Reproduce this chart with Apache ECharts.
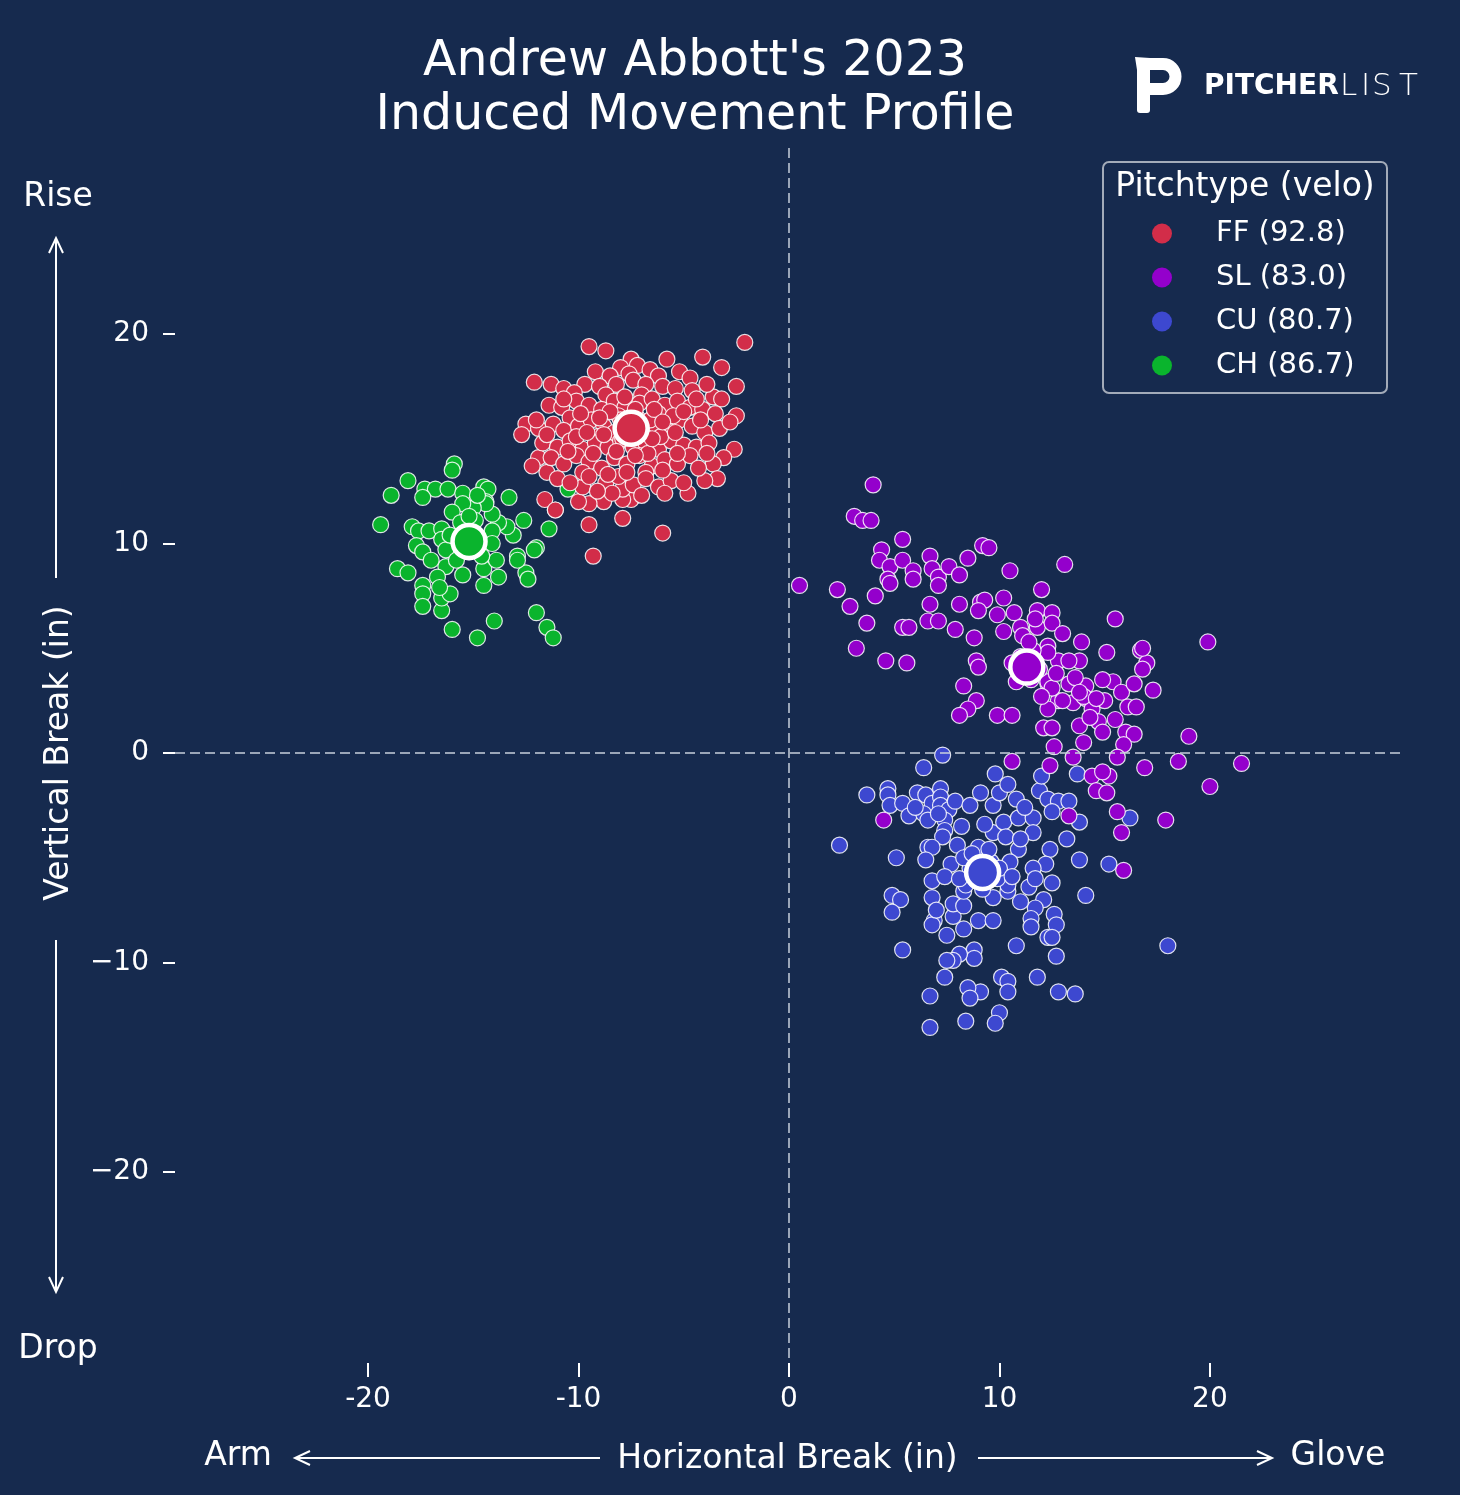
<!DOCTYPE html>
<html>
<head>
<meta charset="utf-8">
<script src="https://cdn.jsdelivr.net/npm/echarts@6.0.0/dist/echarts.min.js"></script>
<style>
  html, body { margin: 0; padding: 0; background: #162a4e; }
  #main { width: 1460px; height: 1495px; }
</style>
</head>
<body>
<div id="main"></div>
<script>
// pitch types, velo and colours
const pitchNames = ['FF', 'SL', 'CU', 'CH'];
const pitchVelo = ['92.8', '83.0', '80.7', '86.7'];
const pitchColors = ['#d22d49', '#9400cc', '#3d48d0', '#0ab42d'];
const tickValues = [-20, -10, 0, 10, 20];

// average movement per pitch [hb, ivb]
const pitchMeans = [[-7.5, 15.5], [11.3, 4.1], [9.2, -5.7], [-15.2, 10.1]];

// single pitches [horizontal break, induced vertical break] (in)
const ffPoints = [
  [-2.1,19.6],[-9.5,19.4],[-8.7,19.2],[-7.5,18.8],[-5.8,18.8],[-4.1,18.9],[-3.2,18.4],[-2.5,17.5],[-9.2,18.2],[-12.1,17.7],
  [-11.3,17.6],[-10.7,17.4],[-2.5,16.1],[-3.6,17.0],[-12.5,15.7],[-12.7,15.2],[-11.9,15.5],[-2.6,14.5],[-3.1,14.1],[-3.6,13.8],
  [-3.4,13.1],[-4.0,13.0],[-4.8,12.4],[-11.6,12.1],[-11.1,11.6],[-9.5,10.9],[-7.9,11.2],[-6.0,10.5],[-9.3,9.4],[-8.8,12.0],
  [-9.5,11.9],[-10.0,12.0],[-7.5,12.1],[-7.9,12.1],[-7.9,12.6],[-9.8,12.7],[-11.5,13.4],[-11.9,14.1],
  [-8.0,18.4],[-7.2,18.5],[-6.6,18.3],[-6.2,18.0],[-8.5,18.0],[-7.6,18.1],[-5.2,18.2],[-4.7,17.9],[-9.7,17.6],
  [-10.2,17.2],[-9.0,17.5],[-8.2,17.6],[-7.4,17.8],[-6.8,17.6],[-6.0,17.5],[-5.4,17.4],[-4.6,17.3],[-3.9,17.6],[-3.2,16.9],[-8.7,17.1],[-7.0,17.1],
  [-11.4,16.6],[-10.8,16.5],[-10.1,16.8],[-9.5,16.6],[-8.9,16.4],[-8.3,16.8],[-7.8,16.5],[-7.1,16.7],[-6.5,16.9],[-5.9,16.6],[-5.3,16.8],
  [-4.7,16.5],[-4.1,16.4],[-3.5,16.2],[-6.2,16.2],[-8.1,16.1],[-10.4,16.0],
  [-12.0,15.9],[-11.2,15.7],[-10.7,15.4],[-10.0,15.6],[-9.4,15.9],[-8.8,15.6],[-8.3,15.3],[-7.6,15.8],[-6.9,15.3],[-6.4,15.7],[-5.8,15.4],
  [-5.2,15.9],[-4.6,15.6],[-4.0,15.3],[-3.3,15.5],[-2.8,15.8],[-9.1,15.1],[-7.2,16.0],[-5.5,16.1],
  [-11.7,14.8],[-11.0,14.6],[-10.4,14.9],[-9.8,14.5],[-9.2,14.8],[-8.6,14.6],[-8.0,14.9],[-7.4,14.6],[-6.8,14.8],[-6.2,14.5],[-5.6,14.9],
  [-5.0,14.7],[-4.4,14.6],[-3.8,14.8],[-7.7,15.1],[-6.1,15.1],[-10.1,15.1],
  [-12.2,13.7],[-11.3,14.1],[-10.7,13.8],[-10.1,14.2],[-9.5,13.9],[-8.9,13.6],[-8.3,14.1],[-7.7,13.8],[-7.1,14.2],[-6.5,13.7],[-5.9,14.0],
  [-5.3,13.8],[-4.7,14.2],[-4.3,13.6],[-9.8,13.4],[-6.8,13.4],
  [-11.0,13.1],[-10.4,12.9],[-9.5,13.2],[-8.7,12.9],[-8.1,13.2],[-7.4,12.8],[-6.8,13.1],[-6.2,12.7],[-5.6,13.0],[-5.0,12.9],[-8.4,12.4],
  [-7.0,12.3],[-5.9,12.4],[-9.1,12.5],
  [-7.0,15.6],[-8.0,15.9],[-7.9,15.0],[-6.6,15.9],[-8.5,16.3],[-6.7,14.3],[-7.3,16.4],[-8.2,14.4],[-6.4,16.4],[-9.0,16.0],[-6.0,15.8],
  [-8.8,15.2],[-7.3,14.2],[-6.5,15.0],[-9.6,15.3],[-5.4,15.3],[-7.8,17.0],[-5.0,16.3],[-9.3,14.3],[-6.0,13.5],[-8.6,13.3],[-5.3,14.3],
  [-10.5,14.4],[-4.4,16.9],[-7.7,13.4],[-10.7,16.9],[-3.9,14.3],[-11.5,15.2],[-9.9,16.2],[-4.2,15.9]
];

const slPoints = [
  [4.0,12.8],[3.1,11.3],[3.5,11.1],[3.9,11.1],[0.5,8.0],[2.3,7.8],[2.9,7.0],[3.7,6.2],[3.2,5.0],[4.6,4.4],[5.6,4.3],[4.1,7.5],
  [4.4,9.7],[4.3,9.2],[4.8,8.9],[4.7,8.3],[4.8,8.1],[5.4,10.2],[5.4,9.2],[5.9,8.7],[5.9,8.3],[6.7,9.4],[6.8,8.8],[7.1,8.4],
  [7.1,8.0],[7.6,8.9],[8.1,8.5],[8.5,9.3],[9.2,9.9],[9.5,9.8],[10.5,8.7],[13.1,9.0],[12.0,7.8],[15.5,6.4],[19.9,5.3],[6.7,7.1],
  [8.1,7.1],[6.6,6.3],[7.1,6.3],[5.4,6.0],[5.7,6.0],[7.9,5.9],[8.8,5.5],[9.1,7.2],[9.3,7.3],[9.0,6.8],[10.2,7.4],[9.9,6.6],
  [10.7,6.7],[11.0,6.0],[11.1,5.6],[11.8,6.0],[11.8,6.8],[12.5,6.7],[12.5,6.2],[13.0,5.7],[13.9,5.3],[15.1,4.8],[13.8,4.4],[12.8,4.4],
  [12.3,5.1],[8.9,4.4],[9.0,4.1],[10.8,3.4],[8.3,3.2],[8.9,2.5],[8.5,2.1],[8.1,1.8],[9.9,1.8],[10.6,1.8],[12.3,3.3],[12.8,2.5],
  [12.3,2.1],[13.3,3.3],[13.5,2.4],[14.1,3.2],[14.1,2.6],[14.4,2.1],[15.0,2.5],[15.4,3.4],[15.8,2.9],[16.4,3.3],[16.7,4.9],[17.0,4.3],
  [16.8,4.0],[17.3,3.0],[16.1,2.2],[16.5,2.2],[13.8,1.3],[14.7,1.5],[12.1,1.2],[12.5,1.2],[12.6,0.3],[14.0,0.5],[14.9,1.0],[16.0,1.0],
  [16.4,0.9],[15.9,0.4],[19.0,0.8],[15.6,-0.2],[13.5,-0.2],[10.6,-0.4],[12.4,-0.6],[16.9,-0.7],[18.5,-0.4],[21.5,-0.5],[14.4,-1.1],
  [15.2,-1.1],[20.0,-1.6],[16.8,5.0],[14.9,-0.9],[14.6,-1.8],[15.1,-1.9],[15.6,-2.8],[17.9,-3.2],[15.8,-3.8],[13.3,-3.0],[15.9,-5.6],
  [4.5,-3.2],[10.6,4.3],[12.3,4.8],[12.3,3.4],[13.3,4.4],[11.6,4.9],[11.5,3.5],[12.5,3.1],[13.0,2.5],[14.0,2.7],[14.6,2.6],[14.9,3.5],
  [11.0,4.6],[11.9,4.0],[12.7,3.8],[13.6,3.6],[11.4,5.3],[10.9,3.9],[12.0,2.7],[13.8,2.9],[15.5,1.6],[14.3,1.7],[11.7,6.4],[10.2,5.8]
];

const cuPoints = [
  [7.3,-0.1],[6.4,-0.7],[3.7,-2.0],[4.7,-1.7],[4.7,-2.0],[4.8,-2.5],[5.4,-2.4],[5.7,-3.0],[6.1,-1.9],[6.5,-2.0],[6.8,-2.4],[6.4,-2.9],
  [6.6,-3.2],[7.2,-1.7],[7.2,-2.1],[7.2,-2.5],[7.6,-2.7],[7.9,-2.3],[8.6,-2.5],[9.1,-1.9],[9.7,-2.5],[10.0,-1.9],[9.8,-1.0],[10.4,-1.5],
  [7.4,-3.2],[7.4,-3.7],[7.3,-4.0],[6.6,-4.5],[6.8,-4.5],[6.5,-5.1],[8.0,-4.4],[7.7,-5.3],[9.0,-4.5],[9.7,-3.8],[10.2,-3.3],[10.3,-4.0],
  [10.9,-3.1],[11.6,-3.1],[11.6,-3.8],[10.9,-4.6],[10.5,-5.2],[11.9,-1.8],[12.3,-2.2],[12.8,-2.3],[12.5,-2.8],[13.3,-2.3],[13.8,-3.3],
  [13.2,-4.1],[12.0,-1.1],[13.7,-1.0],[16.2,-3.1],[12.4,-4.6],[13.8,-5.1],[15.2,-5.3],[12.2,-5.3],[11.6,-5.5],[11.4,-6.4],[11.7,-6.0],
  [12.5,-6.2],[12.1,-7.0],[11.7,-7.4],[11.5,-7.9],[11.5,-8.3],[12.3,-8.8],[12.6,-7.7],[12.7,-8.2],[12.5,-8.8],[12.7,-9.7],[14.1,-6.8],
  [18.0,-9.2],[2.4,-4.4],[5.1,-5.0],[4.9,-6.8],[5.3,-7.0],[4.9,-7.6],[5.4,-9.4],[6.8,-6.9],[6.9,-8.0],[6.8,-8.2],[7.5,-8.7],[8.3,-8.4],
  [7.8,-7.8],[7.8,-7.2],[8.3,-7.3],[9.0,-8.0],[9.7,-8.0],[8.3,-6.6],[8.4,-6.3],[9.7,-6.9],[10.4,-6.6],[10.4,-6.3],[6.8,-6.1],[7.4,-5.9],
  [8.8,-9.4],[8.8,-9.8],[8.1,-9.6],[7.8,-9.9],[7.5,-9.9],[7.4,-10.7],[10.8,-9.2],[11.8,-10.7],[10.1,-10.7],[10.4,-10.9],[10.4,-11.4],
  [9.1,-11.4],[8.5,-11.2],[8.6,-11.7],[6.7,-11.6],[12.8,-11.4],[13.6,-11.5],[10.0,-12.4],[9.8,-12.9],[8.4,-12.8],[6.7,-13.1],
  [8.6,-5.5],[9.6,-5.2],[8.9,-6.1],[9.9,-6.0],[8.3,-5.0],[9.5,-4.6],[10.0,-5.5],[9.2,-6.5],[8.7,-4.8],[10.6,-5.9],[7.1,-2.9],[8.2,-3.5],
  [6.0,-2.6],[10.8,-2.2],[11.2,-2.6],[11.0,-4.1],[9.3,-3.4],[8.1,-6.0],[7.0,-7.5],[11.0,-7.1]
];

const chPoints = [
  [-15.9,13.8],[-16.0,13.5],[-18.1,13.0],[-18.9,12.3],[-19.4,10.9],[-17.3,12.6],[-16.8,12.6],[-16.2,12.6],[-17.4,12.2],[-15.5,12.4],
  [-14.5,12.7],[-14.3,12.6],[-13.3,12.2],[-14.4,12.0],[-12.6,11.1],[-11.4,10.7],[-11.1,11.6],[-12.0,9.8],[-12.1,9.7],[-12.9,9.4],
  [-12.5,8.6],[-12.4,8.3],[-13.8,8.4],[-14.5,8.0],[-17.9,10.8],[-17.6,10.6],[-17.1,10.6],[-17.7,9.9],[-17.4,9.6],[-18.6,8.8],
  [-18.1,8.6],[-17.4,8.0],[-17.4,7.6],[-17.4,7.0],[-16.5,6.8],[-16.5,7.4],[-16.1,7.6],[-16.0,5.9],[-14.8,5.5],[-14.0,6.3],
  [-12.0,6.7],[-11.5,6.0],[-11.2,5.5],[-15.5,8.5],[-16.3,8.9],[-16.7,8.4],[-14.5,8.8],[-13.9,9.2],[-12.9,9.2],[-13.1,10.4],
  [-13.4,10.8],[-13.8,11.0],[-14.1,11.4],[-14.4,11.9],[-15.0,11.7],[-15.5,11.9],[-16.0,11.5],[-16.5,10.7],[-16.5,10.2],[-16.3,9.7],
  [-16.6,7.9],[-15.8,9.2],[-15.2,9.6],[-14.1,10.6],[-14.1,10.0],[-14.9,11.1],[-15.6,11.0],[-16.1,10.4],[-10.5,12.6],[-15.0,10.5],
  [-14.6,9.4],[-15.5,10.0],[-14.8,12.3],[-15.2,11.3],[-17.0,9.2]
];

const pitchPoints = [ffPoints, slPoints, cuPoints, chPoints];

const FONT = 'DejaVu Sans';
const legendNames = pitchNames.map((n, i) => n + ' (' + pitchVelo[i] + ')');

const chart = echarts.init(document.getElementById('main'));

// white open arrow (matplotlib '->' style)
function arrow(x1, y1, x2, y2) {
  const ang = Math.atan2(y2 - y1, x2 - x1);
  const h = 15, w = 7;
  const bx = x2 - h * Math.cos(ang), by = y2 - h * Math.sin(ang);
  const px = -Math.sin(ang) * w, py = Math.cos(ang) * w;
  return [
    { type: 'line', shape: { x1: x1, y1: y1, x2: x2, y2: y2 }, style: { stroke: '#fff', lineWidth: 2 } },
    { type: 'polyline', shape: { points: [[bx + px, by + py], [x2, y2], [bx - px, by - py]] },
      style: { stroke: '#fff', lineWidth: 2, fill: null } }
  ];
}

function label(text, x, y, extra) {
  return {
    type: 'text', x: x, y: y,
    style: Object.assign({ text: text, fill: '#fff', font: '33px "' + FONT + '"', align: 'center', verticalAlign: 'middle' }, extra || {})
  };
}

const series = [
  {
    // zero reference lines
    type: 'scatter', data: [], z: 1, silent: true,
    markLine: {
      silent: true, symbol: 'none', animation: false,
      label: { show: false },
      lineStyle: { color: 'rgba(200,208,220,0.75)', type: [10, 5], width: 2 },
      data: [{ xAxis: 0 }, { yAxis: 0 }]
    }
  }
];

// draw CH first, FF last
[3, 2, 1, 0].forEach(i => {
  series.push({
    name: legendNames[i],
    type: 'scatter',
    data: pitchPoints[i],
    symbolSize: 16,
    z: 2,
    itemStyle: { color: pitchColors[i], borderColor: 'rgba(255,255,255,0.85)', borderWidth: 1.2, opacity: 1 }
  });
});

series.push({
  type: 'scatter',
  symbolSize: 33,
  z: 3,
  data: pitchMeans.map((m, i) => ({ value: m, itemStyle: { color: pitchColors[i] } })),
  itemStyle: { borderColor: '#fff', borderWidth: 4.5, opacity: 1 }
});

const option = {
  backgroundColor: '#162a4e',
  animation: false,
  textStyle: { fontFamily: FONT },
  title: {
    text: "Andrew Abbott's 2023\nInduced Movement Profile",
    left: 690, top: 30, textAlign: 'center',
    textStyle: { color: '#fff', fontSize: 49, lineHeight: 54, fontWeight: 'normal', fontFamily: FONT }
  },
  legend: {
    data: legendNames,
    orient: 'vertical',
    left: 1152, top: 219, padding: 0,
    itemWidth: 20, itemHeight: 20, itemGap: 15,
    icon: 'circle',
    itemStyle: { borderWidth: 0 },
    selectedMode: false,
    textStyle: { color: '#fff', fontSize: 29, fontFamily: FONT, padding: [0, 0, 0, 39] }
  },
  grid: { left: 175, right: 60, top: 148, bottom: 137 },
  xAxis: {
    type: 'value', min: -29.17, max: 29.03,
    name: 'Horizontal Break (in)', nameLocation: 'middle', nameGap: 80, nameMoveOverlap: false,
    nameTextStyle: { color: '#fff', fontSize: 33, fontFamily: FONT },
    offset: 5,
    axisLine: { show: false, onZero: false },
    splitLine: { show: false },
    axisTick: { show: true, length: 14, customValues: tickValues, lineStyle: { color: '#fff', width: 2 } },
    axisLabel: { customValues: tickValues, color: '#fff', fontSize: 28, margin: 23, fontFamily: FONT }
  },
  yAxis: {
    type: 'value', min: -28.88, max: 28.88,
    name: 'Vertical Break (in)', nameLocation: 'middle', nameGap: 99, nameRotate: 90, nameMoveOverlap: false,
    nameTextStyle: { color: '#fff', fontSize: 33, fontFamily: FONT },
    axisLine: { show: false, onZero: false },
    splitLine: { show: false },
    axisTick: { show: true, length: 12, customValues: tickValues, lineStyle: { color: '#fff', width: 2 } },
    axisLabel: {
      customValues: tickValues, color: '#fff', fontSize: 28, margin: 26, fontFamily: FONT,
      formatter: v => (v < 0 ? '\u2212' + Math.abs(v) : String(v))
    }
  },
  graphic: [
    // legend frame + title
    { type: 'rect', shape: { x: 1103, y: 162, width: 284, height: 231, r: 6 },
      style: { fill: 'none', stroke: '#a3abb9', lineWidth: 2 }, z: 10 },
    label('Pitchtype (velo)', 1245, 187),
    // direction hints
    label('Rise', 58, 197),
    label('Drop', 58, 1349),
    label('Arm', 238, 1456),
    label('Glove', 1338, 1456),
    ...arrow(56, 578, 56, 238),
    ...arrow(56, 940, 56, 1292),
    ...arrow(600, 1458, 295, 1458),
    ...arrow(978, 1458, 1272, 1458),
    // pitcher list logo
    { type: 'rect', shape: { x: 1137, y: 64, width: 13, height: 49, r: 3 }, style: { fill: '#fff' } },
    { type: 'polyline', shape: { points: [[1135, 57], [1150, 58], [1150, 70], [1137, 70]] }, style: { fill: '#fff', stroke: null } },
    { type: 'line', shape: { x1: 1140, y1: 64, x2: 1163, y2: 64 }, style: { stroke: '#fff', lineWidth: 12 } },
    { type: 'arc', shape: { cx: 1163, cy: 76.5, r: 12.5, startAngle: -Math.PI / 2, endAngle: Math.PI / 2, clockwise: true },
      style: { stroke: '#fff', lineWidth: 12, fill: null } },
    { type: 'line', shape: { x1: 1163, y1: 89, x2: 1149, y2: 89 }, style: { stroke: '#fff', lineWidth: 12 } },
    { type: 'text', x: 1204, y: 87, style: { text: 'PITCHER', fill: '#fff', font: 'bold 28px "' + FONT + '"', verticalAlign: 'middle' } },
    { type: 'text', x: 1340, y: 87, style: { text: 'L', fill: '#fff', font: '200 31px "' + FONT + '"', verticalAlign: 'middle' } },
    { type: 'text', x: 1361, y: 87, style: { text: 'I', fill: '#fff', font: '200 31px "' + FONT + '"', verticalAlign: 'middle' } },
    { type: 'text', x: 1372, y: 87, style: { text: 'S', fill: '#fff', font: '200 31px "' + FONT + '"', verticalAlign: 'middle' } },
    { type: 'text', x: 1399, y: 87, style: { text: 'T', fill: '#fff', font: '200 31px "' + FONT + '"', verticalAlign: 'middle' } }
  ],
  series: series
};

chart.setOption(option);
</script>
</body>
</html>
